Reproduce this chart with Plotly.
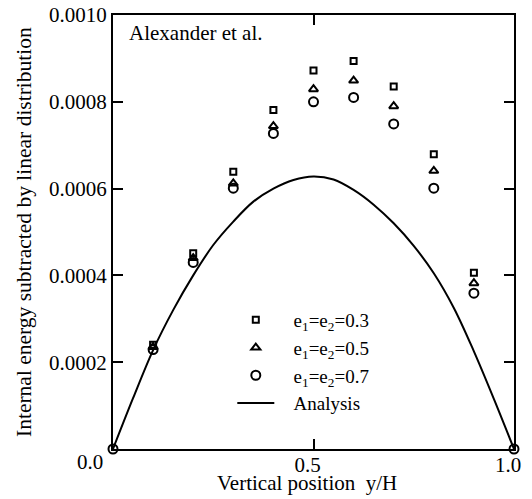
import plotly.graph_objects as go

# Experimental data (Alexander et al.)
x_exp = [0.1, 0.2, 0.3, 0.4, 0.5, 0.6, 0.7, 0.8, 0.9]
y_e03 = [0.000240, 0.000451, 0.000639, 0.000781, 0.000872, 0.000894, 0.000835, 0.000679, 0.000406]
y_e05 = [0.000235, 0.000440, 0.000612, 0.000744, 0.000829, 0.000849, 0.000790, 0.000641, 0.000382]
x_e07 = [0.0, 0.1, 0.2, 0.3, 0.4, 0.5, 0.6, 0.7, 0.8, 0.9, 1.0]
y_e07 = [0.0, 0.000229, 0.000430, 0.000601, 0.000727, 0.000800, 0.000810, 0.000749, 0.000601, 0.000359, 0.0]

# Analysis curve
x_an = [0.0, 0.05, 0.1, 0.15, 0.2, 0.25, 0.3, 0.35, 0.4, 0.45, 0.5,
        0.55, 0.6, 0.65, 0.7, 0.75, 0.8, 0.85, 0.9, 0.95, 1.0]
y_an = [0.0, 0.000117, 0.000228, 0.000320, 0.000400, 0.000470, 0.000524, 0.000570, 0.000600, 0.000620, 0.000628,
        0.000621, 0.000597, 0.000563, 0.000520, 0.000468, 0.000405, 0.000325, 0.000225, 0.000115, 0.0]

x_ticks = [0.0, 0.5, 1.0]
x_ticklabels = ["", "0.5", "1.0"]
y_ticks = [0.0, 0.0002, 0.0004, 0.0006, 0.0008, 0.0010]
y_ticklabels = ["", "0.0002", "0.0004", "0.0006", "0.0008", "0.0010"]

FONT = "Liberation Serif, Times New Roman, serif"
FS = 21
PAD = "\u00a0\u00a0\u00a0"

fig = go.Figure()
fig.add_trace(go.Scatter(
    x=x_an, y=y_an, mode="lines", name=PAD + "Analysis",
    line=dict(color="black", width=2, shape="spline", smoothing=1.0),
    cliponaxis=False, legendrank=4))
fig.add_trace(go.Scatter(
    x=x_exp, y=y_e03, mode="markers", name=PAD + "e<sub>1</sub>=e<sub>2</sub>=0.3",
    marker=dict(symbol="square-open", size=6, color="black", line=dict(width=2, color="black")),
    cliponaxis=False, legendrank=1))
fig.add_trace(go.Scatter(
    x=x_exp, y=y_e05, mode="markers", name=PAD + "e<sub>1</sub>=e<sub>2</sub>=0.5",
    marker=dict(symbol="triangle-up-open", size=8, color="black", line=dict(width=2, color="black")),
    cliponaxis=False, legendrank=2))
fig.add_trace(go.Scatter(
    x=x_e07, y=y_e07, mode="markers", name=PAD + "e<sub>1</sub>=e<sub>2</sub>=0.7",
    marker=dict(symbol="circle-open", size=9, color="black", line=dict(width=2, color="black")),
    cliponaxis=False, legendrank=3))

fig.update_layout(
    width=532, height=499,
    margin=dict(l=113, r=18, t=15, b=50, autoexpand=False),
    paper_bgcolor="white", plot_bgcolor="white",
    font=dict(family=FONT, size=FS, color="black"),
    showlegend=True,
    legend=dict(x=0.2975, y=0.341, xanchor="left", yanchor="top",
                bgcolor="rgba(0,0,0,0)", font=dict(family=FONT, size=19, color="black"),
                itemwidth=37, tracegroupgap=0, traceorder="normal"),
    xaxis=dict(range=[0, 1], tickvals=x_ticks, ticktext=x_ticklabels,
               ticks="inside", ticklen=10, tickwidth=2, tickcolor="black",
               showline=True, linewidth=2, linecolor="black", mirror="ticks",
               showgrid=False, zeroline=False, automargin=False,
               ticklabelshift=-6, ticklabelstandoff=-4,
               tickfont=dict(family=FONT, size=FS, color="black")),
    yaxis=dict(range=[0, 0.001], tickvals=y_ticks, ticktext=y_ticklabels,
               ticks="inside", ticklen=10, tickwidth=2, tickcolor="black",
               showline=True, linewidth=2, linecolor="black", mirror="ticks",
               showgrid=False, zeroline=False, automargin=False,
               tickfont=dict(family=FONT, size=FS, color="black")),
    annotations=[
        dict(text="Alexander et al.", xref="paper", yref="paper", x=0.035, y=0.958,
             xanchor="left", yanchor="middle", showarrow=False,
             font=dict(family=FONT, size=FS, color="black")),
        dict(text="0.0", xref="paper", yref="paper", x=0.0, y=0.0,
             xanchor="right", yanchor="top", xshift=-8, yshift=1, showarrow=False,
             font=dict(family=FONT, size=FS, color="black")),
        dict(text="Vertical position\u00a0\u00a0y/H", xref="paper", yref="paper",
             x=0.485, y=-0.079, xanchor="center", yanchor="middle", showarrow=False,
             font=dict(family=FONT, size=FS, color="black")),
        dict(text="Internal energy subtracted by linear distribution", xref="paper", yref="paper",
             x=-0.222, y=0.5, xanchor="center", yanchor="middle", textangle=-90, showarrow=False,
             font=dict(family=FONT, size=21.5, color="black")),
    ],
)

fig.write_html(
    "out.html",
    config={"displayModeBar": False},
    post_script="document.body.style.margin='0';document.body.style.overflow='hidden';",
)
